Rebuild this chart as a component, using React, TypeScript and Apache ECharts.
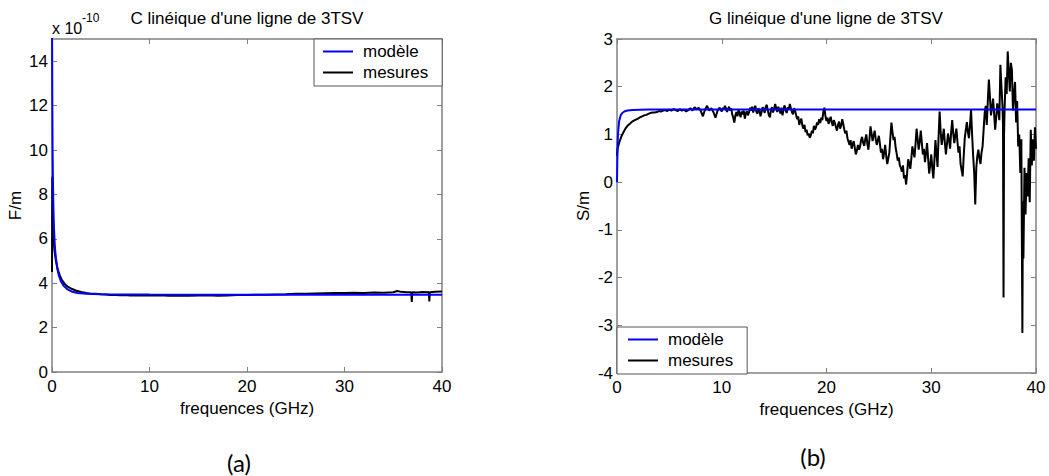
import React, { useEffect, useRef } from "react";
import * as echarts from "echarts";

// ---------- data ----------
const seriesNames = ["modèle", "mesures"];
const titles = ["C linéique d'une ligne de 3TSV", "G linéique d'une ligne de 3TSV"];
const xName = "frequences (GHz)";
const yNames = ["F/m", "S/m"];
const panelLabels = ["(a)", "(b)"];
const cExponent = "-10";

// C (x 1e-10 F/m) vs frequency (GHz)
const cModel: [number, number][] = [
  [0, 16], [0.03, 12.5], [0.06, 10], [0.1, 8.5], [0.15, 7.3], [0.2, 6.5], [0.3, 5.6],
  [0.4, 5.15], [0.55, 4.65], [0.7, 4.35], [0.9, 4.1], [1.2, 3.88], [1.6, 3.72], [2.0, 3.63],
  [2.6, 3.56], [3.5, 3.52], [5, 3.5], [10, 3.49], [20, 3.48], [30, 3.48], [40, 3.48],
];
const cMesures: [number, number][] = [
  [0, 4.5], [0.03, 8.8], [0.08, 7.2], [0.15, 6.2], [0.25, 5.5], [0.4, 5.0], [0.6, 4.6],
  [0.8, 4.35], [1.0, 4.15], [1.3, 3.97], [1.6, 3.85], [2.0, 3.75], [2.5, 3.66], [3.0, 3.6],
  [3.5, 3.56], [4.0, 3.53], [4.5, 3.52], [5, 3.5], [5.5, 3.49], [6, 3.47], [6.5, 3.47],
  [7, 3.46], [7.5, 3.47], [8, 3.45], [9, 3.46], [10, 3.45], [11, 3.46], [12, 3.44],
  [13, 3.45], [14, 3.44], [15, 3.45], [16, 3.46], [17, 3.44], [18, 3.45], [19, 3.47],
  [20, 3.47], [21, 3.48], [22, 3.48], [23, 3.49], [24, 3.5], [25, 3.52], [26, 3.53],
  [27, 3.54], [28, 3.55], [29, 3.56], [30, 3.56], [31, 3.57], [32, 3.56], [33, 3.58],
  [34, 3.57], [35, 3.59], [35.4, 3.65], [35.8, 3.61], [36.4, 3.59], [36.85, 3.59],
  [36.9, 3.15], [36.95, 3.59], [37.5, 3.58], [38, 3.6], [38.65, 3.59], [38.7, 3.18],
  [38.75, 3.59], [39.3, 3.61], [40, 3.63],
];

// G (S/m) vs frequency (GHz)
const gModel: [number, number][] = [
  [0, 0], [0.03, 0.45], [0.06, 0.8], [0.1, 1.03], [0.2, 1.27], [0.35, 1.4], [0.5, 1.45],
  [0.7, 1.48], [1.0, 1.5], [1.5, 1.51], [3, 1.52], [10, 1.52], [20, 1.52], [30, 1.52], [40, 1.52],
];
const gMesures: [number, number][] = [
  [0, 0.55], [0.05, 0.7], [0.2, 0.82], [0.4, 0.95], [0.6, 1.04], [0.8, 1.12], [1.0, 1.18],
  [1.2, 1.22], [1.4, 1.26], [1.6, 1.29], [1.8, 1.31], [2.0, 1.33], [2.2, 1.36], [2.4, 1.38],
  [2.6, 1.4], [2.8, 1.41], [3.0, 1.43], [3.2, 1.45], [3.4, 1.46], [3.6, 1.46], [3.8, 1.47],
  [4.0, 1.49], [4.2, 1.48], [4.4, 1.5], [4.6, 1.51], [4.8, 1.49], [5.0, 1.52],
  [5.2, 1.5], [5.4, 1.53], [5.6, 1.51], [5.8, 1.49], [6.0, 1.53], [6.2, 1.5], [6.4, 1.52],
  [6.6, 1.48], [6.8, 1.51], [7.0, 1.55], [7.2, 1.5], [7.4, 1.57], [7.6, 1.53], [7.8, 1.56],
  [8.0, 1.49], [8.2, 1.38], [8.4, 1.52], [8.6, 1.6], [8.8, 1.5], [9.0, 1.55], [9.2, 1.47],
  [9.4, 1.35], [9.6, 1.5], [9.8, 1.56],
  [10.0, 1.48], [10.1, 1.56], [10.2, 1.52], [10.3, 1.6], [10.4, 1.55], [10.5, 1.47],
  [10.6, 1.53], [10.7, 1.58], [10.8, 1.5], [10.9, 1.55], [11.0, 1.42], [11.1, 1.35],
  [11.2, 1.25], [11.3, 1.4], [11.4, 1.47], [11.5, 1.38], [11.6, 1.52], [11.7, 1.44],
  [11.8, 1.36], [11.9, 1.48], [12.0, 1.42], [12.1, 1.5], [12.2, 1.33], [12.3, 1.44],
  [12.4, 1.49], [12.5, 1.4], [12.6, 1.46], [12.7, 1.56], [12.8, 1.5], [12.9, 1.58],
  [13.0, 1.46], [13.1, 1.54], [13.2, 1.6], [13.3, 1.48], [13.4, 1.43], [13.5, 1.55],
  [13.6, 1.5], [13.7, 1.38], [13.8, 1.47], [13.9, 1.57], [14.0, 1.52], [14.1, 1.45],
  [14.2, 1.58], [14.3, 1.62], [14.4, 1.5], [14.5, 1.4], [14.6, 1.36], [14.7, 1.52],
  [14.8, 1.57], [14.9, 1.46], [15.0, 1.54], [15.1, 1.64], [15.2, 1.55], [15.3, 1.47],
  [15.4, 1.58], [15.5, 1.52], [15.6, 1.44], [15.7, 1.56], [15.8, 1.4], [15.9, 1.53],
  [16.0, 1.61], [16.1, 1.5], [16.2, 1.45], [16.3, 1.57], [16.4, 1.52], [16.5, 1.64],
  [16.6, 1.55], [16.7, 1.47], [16.8, 1.42], [16.9, 1.55], [17.0, 1.5],
  [17.1, 1.4], [17.2, 1.32], [17.3, 1.38], [17.4, 1.2], [17.5, 1.28], [17.6, 1.33],
  [17.7, 1.18], [17.8, 1.12], [17.9, 1.2], [18.0, 1.05], [18.1, 1.1], [18.2, 0.98],
  [18.3, 1.02], [18.4, 0.93], [18.5, 0.98], [18.6, 1.08], [18.7, 1.02], [18.8, 1.18],
  [18.9, 1.1], [19.0, 1.15], [19.1, 1.25], [19.2, 1.2], [19.3, 1.32], [19.4, 1.24],
  [19.5, 1.35], [19.6, 1.3], [19.7, 1.48], [19.8, 1.56], [19.9, 1.38], [20.0, 1.28],
  [20.1, 1.35], [20.2, 1.22], [20.3, 1.3], [20.4, 1.37], [20.5, 1.25], [20.6, 1.18],
  [20.7, 1.3], [20.8, 1.24], [20.9, 1.15], [21.0, 1.08], [21.1, 1.2], [21.2, 1.27],
  [21.3, 1.12], [21.4, 1.18], [21.5, 1.32], [21.6, 1.22], [21.7, 1.1], [21.8, 1.02],
  [21.9, 1.08], [22.0, 0.92],
  [22.1, 0.85], [22.2, 0.78], [22.3, 0.88], [22.4, 0.7], [22.5, 0.8], [22.6, 0.86],
  [22.7, 0.72], [22.8, 0.58], [22.9, 0.66], [23.0, 0.78], [23.1, 0.68], [23.2, 0.74],
  [23.3, 0.88], [23.4, 0.95], [23.5, 0.82], [23.6, 0.76], [23.7, 0.9], [23.8, 1.0],
  [23.9, 0.8], [24.0, 0.68],
  [24.1, 0.9], [24.2, 1.17], [24.3, 1.02], [24.4, 0.86], [24.5, 0.98], [24.6, 1.08],
  [24.7, 0.9], [24.8, 0.78], [24.9, 0.88], [25.0, 0.97], [25.1, 0.8], [25.2, 0.62],
  [25.3, 0.7], [25.4, 0.48], [25.5, 0.6], [25.6, 0.78], [25.7, 0.55], [25.8, 0.38],
  [25.9, 0.5], [26.0, 0.62], [26.1, 0.95], [26.2, 1.25], [26.3, 1.05], [26.4, 0.88],
  [26.5, 0.95], [26.6, 0.72], [26.7, 0.6], [26.8, 0.45], [26.9, 0.52], [27.0, 0.35],
  [27.1, 0.3], [27.2, 0.22], [27.3, 0.35], [27.4, 0.08], [27.5, 0.15], [27.6, -0.05],
  [27.7, 0.2], [27.8, 0.48], [27.9, 0.38], [28.0, 0.28], [28.1, 0.5], [28.2, 0.75],
  [28.3, 0.62], [28.4, 0.52], [28.5, 0.8], [28.6, 1.12], [28.7, 0.9], [28.8, 0.68],
  [28.9, 0.85], [29.0, 1.08], [29.1, 0.82], [29.2, 0.58], [29.3, 0.7], [29.4, 0.42],
  [29.5, 0.6], [29.6, 0.82], [29.7, 0.5], [29.8, 0.18], [29.9, 0.35], [30.0, 0.58],
  [30.1, 0.3], [30.2, 0.08], [30.3, 0.45], [30.4, 0.88], [30.5, 0.6], [30.6, 0.32],
  [30.7, 0.95], [30.8, 1.48], [30.9, 1.05], [31.0, 0.78], [31.1, 0.95], [31.2, 1.12],
  [31.3, 0.82], [31.4, 0.58], [31.5, 0.8], [31.6, 1.02], [31.7, 0.88], [31.8, 0.7],
  [31.9, 1.05], [32.0, 1.3], [32.1, 1.02], [32.2, 0.82], [32.3, 0.98], [32.4, 1.12],
  [32.5, 0.85], [32.6, 0.62], [32.7, 0.75], [32.8, 0.38], [32.9, 0.25], [33.0, 0.12],
  [33.1, 0.55], [33.2, 0.92], [33.3, 1.1], [33.4, 1.26], [33.5, 1.05], [33.6, 0.92],
  [33.7, 1.2], [33.8, 1.52], [33.9, 1.0], [34.0, 0.55],
  [34.1, 0.2], [34.2, -0.47], [34.3, 0.3], [34.4, 0.55], [34.5, 0.68], [34.6, 0.5],
  [34.7, 0.38], [34.8, 0.62], [34.9, 0.75], [35.0, 1.1], [35.1, 1.45], [35.2, 1.6],
  [35.3, 1.2], [35.4, 1.7], [35.5, 2.15], [35.6, 1.8], [35.7, 1.4], [35.8, 1.55],
  [35.9, 1.75], [36.0, 1.45], [36.1, 1.1], [36.2, 1.35], [36.3, 1.65], [36.4, 1.5],
  [36.5, 1.3], [36.6, 2.46], [36.7, 2.0], [36.8, 1.6], [36.85, 1.2], [36.9, -2.42],
  [36.95, 1.0], [37.0, 1.5], [37.1, 2.2], [37.2, 1.85], [37.3, 2.74], [37.4, 2.3],
  [37.5, 1.9], [37.6, 2.5], [37.7, 2.35], [37.8, 1.5], [37.9, 1.85], [38.0, 2.1],
  [38.1, 1.25], [38.2, 1.7], [38.3, 0.75], [38.4, 1.0], [38.5, 0.19], [38.6, 0.9],
  [38.7, -3.16], [38.75, -0.4], [38.8, -1.6], [38.9, 0.3], [39.0, -0.68], [39.1, 0.19],
  [39.2, -0.3], [39.3, 0.5], [39.4, -0.42], [39.5, 1.1], [39.6, 0.35], [39.7, 0.9],
  [39.8, 0.45], [39.9, 1.15], [40.0, 0.7],
];

// ---------- styling ----------
const FONT = "'Liberation Sans', Arial, Helvetica, sans-serif";
const FRAME = "#808080";
const BLUE = "#0000ff";
const BLACK = "#000000";
const FS = 17;

function frameAxisX(gridIndex: number, top: boolean, withLabels: boolean) {
  return {
    type: "value",
    gridIndex,
    position: top ? "top" : "bottom",
    min: 0,
    max: 40,
    interval: 10,
    name: withLabels ? xName : "",
    nameLocation: "middle",
    nameGap: 26,
    nameTextStyle: { fontFamily: FONT, fontSize: FS, color: "#000" },
    axisLine: { show: true, onZero: false, lineStyle: { color: FRAME, width: 1.5 } },
    axisTick: { show: true, inside: true, length: 5, lineStyle: { color: FRAME, width: 1 } },
    axisLabel: { show: withLabels, fontFamily: FONT, fontSize: FS, color: "#000", margin: 6 },
    splitLine: { show: false },
  };
}

function frameAxisY(
  gridIndex: number,
  right: boolean,
  min: number,
  max: number,
  interval: number,
  name: string,
  nameGap: number,
  showMaxLabel: boolean
) {
  return {
    type: "value",
    gridIndex,
    position: right ? "right" : "left",
    min,
    max,
    interval,
    name: right ? "" : name,
    nameLocation: "middle",
    nameGap,
    nameRotate: 90,
    nameTextStyle: { fontFamily: FONT, fontSize: FS, color: "#000" },
    axisLine: { show: true, onZero: false, lineStyle: { color: FRAME, width: 1.5 } },
    axisTick: { show: true, inside: true, length: 5, lineStyle: { color: FRAME, width: 1 } },
    axisLabel: {
      show: !right,
      fontFamily: FONT,
      fontSize: FS,
      color: "#000",
      margin: 4,
      showMaxLabel,
    },
    splitLine: { show: false },
  };
}

function lineSeries(name: string, data: [number, number][], color: string, axisIdx: number) {
  return {
    type: "line",
    name,
    data,
    xAxisIndex: axisIdx,
    yAxisIndex: axisIdx,
    showSymbol: false,
    symbol: "none",
    clip: true,
    lineStyle: { color, width: 2 },
    itemStyle: { color },
    emphasis: { disabled: true },
  };
}

function legendBox(left: number, top: number, padding: number[]) {
  return {
    left,
    top,
    orient: "vertical",
    data: seriesNames,
    icon: "rect",
    itemWidth: 30,
    itemHeight: 2,
    itemGap: 4,
    padding,
    backgroundColor: "#fff",
    borderColor: "#555",
    borderWidth: 1,
    borderRadius: 0,
    selectedMode: false,
    textStyle: { fontFamily: FONT, fontSize: FS, color: "#000", padding: [0, 0, 0, 5] },
  };
}

export default function App() {
  const ref = useRef<HTMLDivElement>(null);

  useEffect(() => {
    if (!ref.current) return;
    const chart = echarts.init(ref.current, undefined, { renderer: "svg" });
    const option = {
      animation: false,
      backgroundColor: "#fff",
      title: [
        {
          text: titles[0],
          left: 247,
          top: 10,
          textAlign: "center",
          padding: 0,
          textStyle: { fontFamily: FONT, fontSize: FS, fontWeight: "normal", color: "#000" },
        },
        {
          text: titles[1],
          left: 826,
          top: 10,
          textAlign: "center",
          padding: 0,
          textStyle: { fontFamily: FONT, fontSize: FS, fontWeight: "normal", color: "#000" },
        },
      ],
      grid: [
        { left: 52, top: 39, width: 390, height: 333, containLabel: false },
        { left: 617, top: 39, width: 419, height: 334, containLabel: false },
      ],
      xAxis: [
        frameAxisX(0, false, true),
        frameAxisX(0, true, false),
        frameAxisX(1, false, true),
        frameAxisX(1, true, false),
      ],
      yAxis: [
        frameAxisY(0, false, 0, 15, 2, yNames[0], 28, false),
        frameAxisY(0, true, 0, 15, 2, "", 0, false),
        frameAxisY(1, false, -4, 3, 1, yNames[1], 25, true),
        frameAxisY(1, true, -4, 3, 1, "", 0, true),
      ],
      legend: [legendBox(314, 39, [4, 14, 5, 9]), legendBox(617, 327, [4, 14, 5, 11])],
      series: [
        lineSeries(seriesNames[1], cMesures, BLACK, 0),
        lineSeries(seriesNames[0], cModel, BLUE, 0),
        lineSeries(seriesNames[1], gMesures, BLACK, 2),
        lineSeries(seriesNames[0], gModel, BLUE, 2),
      ],
      graphic: [
        {
          type: "text",
          left: 52,
          top: 20,
          style: { text: "x 10", font: `16px ${FONT}`, fill: "#000" },
        },
        {
          type: "text",
          left: 82,
          top: 12,
          style: { text: cExponent, font: `12px ${FONT}`, fill: "#000" },
        },
        {
          type: "text",
          x: 239,
          y: 462,
          style: {
            text: panelLabels[0],
            font: `24px Lato, 'Open Sans', sans-serif`,
            fill: "#000",
            textAlign: "center",
            textVerticalAlign: "middle",
          },
        },
        {
          type: "text",
          x: 813,
          y: 456,
          style: {
            text: panelLabels[1],
            font: `24px Lato, 'Open Sans', sans-serif`,
            fill: "#000",
            textAlign: "center",
            textVerticalAlign: "middle",
          },
        },
      ],
    };
    chart.setOption(option as any);
    return () => chart.dispose();
  }, []);

  return (
    <div
      ref={ref}
      style={{ position: "fixed", left: 0, top: 0, width: 1049, height: 476, background: "#fff" }}
    />
  );
}
